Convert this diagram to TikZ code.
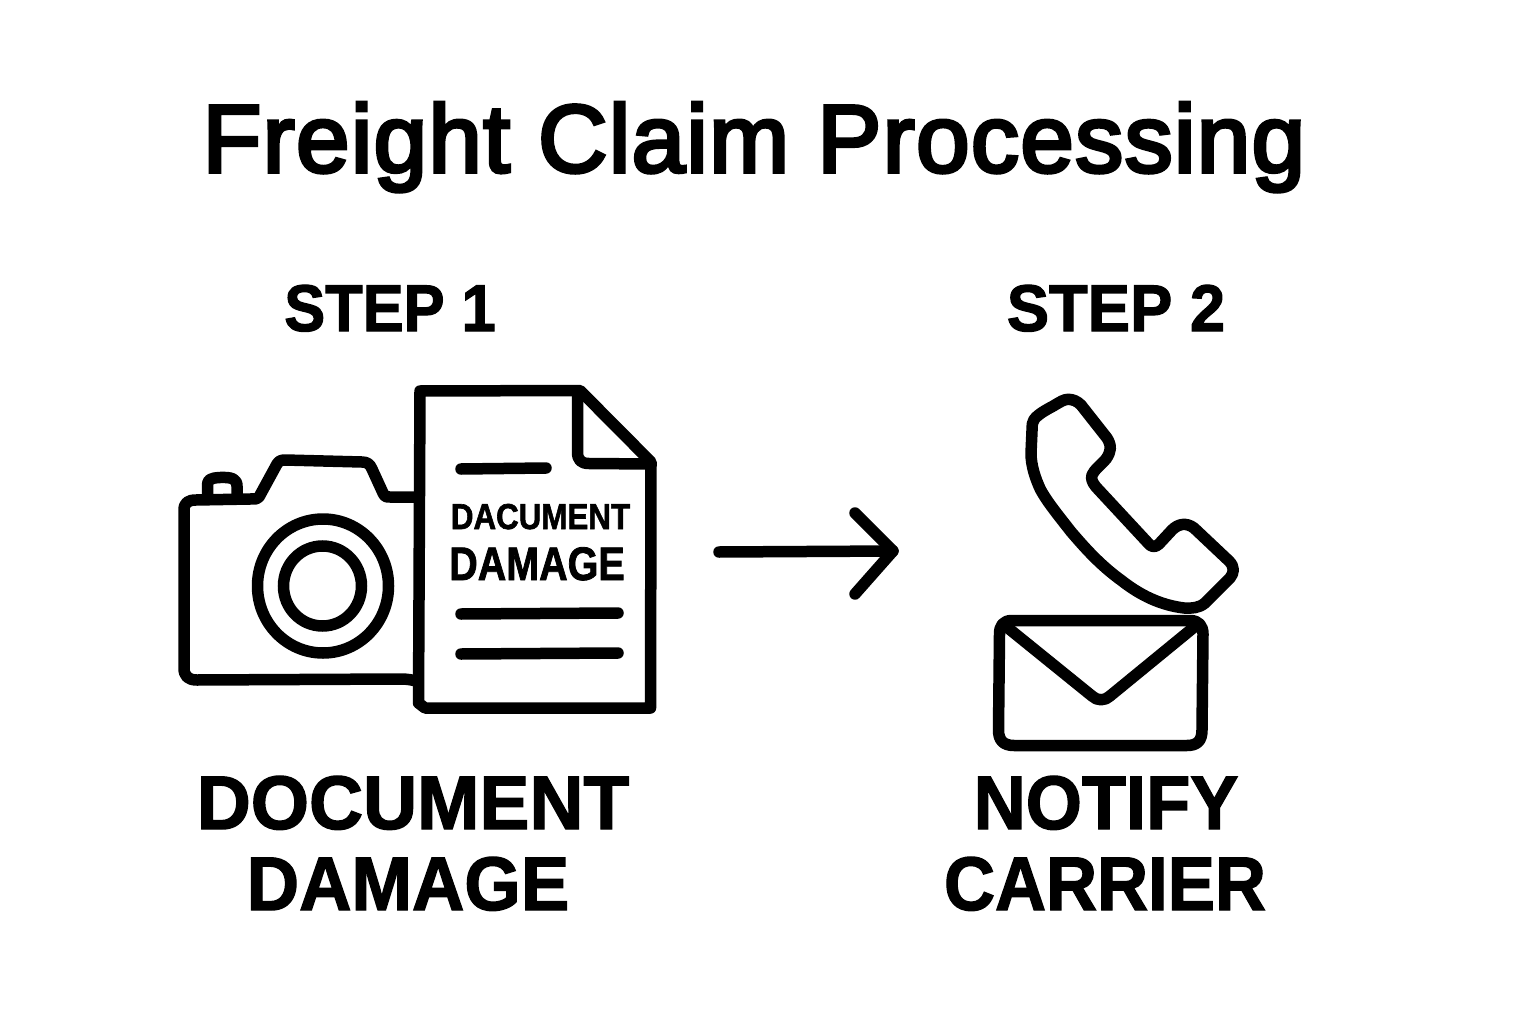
\documentclass[tikz,border=0pt]{standalone}
\usepackage{fontspec}
\setmainfont{Liberation Sans}
\newcommand{\titlef}{\addfontfeature{FakeBold=3.8,LetterSpace=1.5}}
\newcommand{\headf}{\bfseries\addfontfeature{FakeBold=1.8}}
\tikzset{
  x=1pt,y=-1pt,
  ink/.style={draw=black,line width=11.5pt,line join=round,line cap=round},
  bar/.style={draw=black,line width=11.5pt,line cap=round},
  txt/.style={inner sep=0pt,outer sep=0pt,text=black,anchor=base},
  ringline/.style={draw=black,line width=11.5pt},
}
\newcommand{\sx}[2]{\scalebox{#1}[1]{#2}}
\begin{document}
\begin{tikzpicture}
\useasboundingbox (0,0) rectangle (1536,1024);
\fill[white] (0,0) rectangle (1536,1024);
\node[txt,font=\fontsize{96}{96}\selectfont\titlef] (title) at (754,172) {Freight Claim Processing};
\node[txt,font=\fontsize{66}{66}\selectfont\headf] (s1) at (390,331) {\sx{.93}{STEP 1}};
\node[txt,font=\fontsize{66}{66}\selectfont\headf] (s2) at (1116,331) {\sx{.96}{STEP 2}};
\node[txt,font=\fontsize{76}{76}\selectfont\headf] (l1a) at (413,829) {\sx{.985}{DOCUMENT}};
\node[txt,font=\fontsize{76}{76}\selectfont\headf] (l1b) at (408,910) {\sx{.955}{DAMAGE}};
\node[txt,font=\fontsize{76}{76}\selectfont\headf] (l2a) at (1106,829) {\sx{.95}{NOTIFY}};
\node[txt,font=\fontsize{76}{76}\selectfont\headf] (l2b) at (1105,910) {\sx{.93}{CARRIER}};
% camera
\draw[ink] (416,497) -- (390,497) .. controls (386,497) and (385,497) .. (383,493) -- (372,469) .. controls (370,464) and (367,462) .. (362,462) -- (285,460) .. controls (281,460) and (279,461) .. (277,464) -- (259,497) .. controls (258,499) and (256,499) .. (250,499) -- (196,500) .. controls (188,500) and (184,503) .. (184,510) -- (184,668) .. controls (184,676) and (188,680) .. (197,680) -- (400,679) .. controls (408,679) and (412,680) .. (416,681);
\draw[ink] (207.5,497) -- (207.5,485) .. controls (207.5,480) and (210,478) .. (220,477.5) .. controls (232,477) and (237,479) .. (237,486) -- (237,497);
\draw[ringline] (323,586) ellipse [x radius=65.5,y radius=67];
\draw[ringline] (322.5,586) ellipse [x radius=39,y radius=40];
% document
\draw[ink] (420,391) -- (580,390.5) -- (651,462) -- (650.5,708) -- (425,708) -- (418.5,703) -- cycle;
\draw[ink] (577.5,393) -- (577.5,452) .. controls (577.5,460) and (581,463.5) .. (589,463.5) -- (650,464);
\draw[bar] (461,469) -- (546,468);
\draw[bar] (461,614) -- (618,613);
\draw[bar] (461,654) -- (618,653);
\node[txt,font=\fontsize{36}{36}\selectfont\headf] (d1) at (540.5,529) {\sx{.87}{DACUMENT}};
\node[txt,font=\fontsize{47}{47}\selectfont\headf] (d2) at (537,580) {\sx{.84}{DAMAGE}};
% arrow
\coordinate (a0) at (719,552);
\coordinate (a1) at (893,551);
\draw[ink] (a0) -- (a1);
\draw[ink] (855,513) -- (a1) -- (855,594);
% phone
\draw[ink] (1068.3,399.3) .. controls (1073,399.5) and (1077,401) .. (1081,405) -- (1107,438) .. controls (1112,446) and (1111,452) .. (1106,459) .. controls (1101,465) and (1094,470) .. (1092,475) .. controls (1091,479) and (1092,482) .. (1096,487) -- (1148,543) .. controls (1151,547) and (1155,548) .. (1159,544) -- (1172,530) .. controls (1178,524) and (1186,522) .. (1194,528) -- (1229,561) .. controls (1235,567) and (1234,573) .. (1230,578) -- (1205,603) .. controls (1199,608) and (1192,608.5) .. (1184,608) .. controls (1160,605) and (1140,595) .. (1121.7,580.7) .. controls (1100,565) and (1085,548) .. (1071,531.7) .. controls (1058,515) and (1048,503) .. (1040.7,490) .. controls (1035,478) and (1031,465) .. (1031,453.3) -- (1032.3,424) .. controls (1033,418) and (1040,413) .. (1053.3,406) .. controls (1060,402) and (1064,399.3) .. (1068.3,399.3) -- cycle;
% envelope
\draw[ink] (1012,620.5) -- (1190,620.5) .. controls (1199,620.5) and (1203,626) .. (1203,634) -- (1202,730) .. controls (1202,741) and (1197,745.5) .. (1187,745.5) -- (1014,745.5) .. controls (1003,745.5) and (998.5,740) .. (998.5,730) -- (999.5,634) .. controls (999.5,626) and (1003,620.5) .. (1012,620.5) -- cycle;
\draw[ink] (1008,628) -- (1092,696) .. controls (1097,701) and (1105,701) .. (1110,696) -- (1193,628);
\end{tikzpicture}
\end{document}
